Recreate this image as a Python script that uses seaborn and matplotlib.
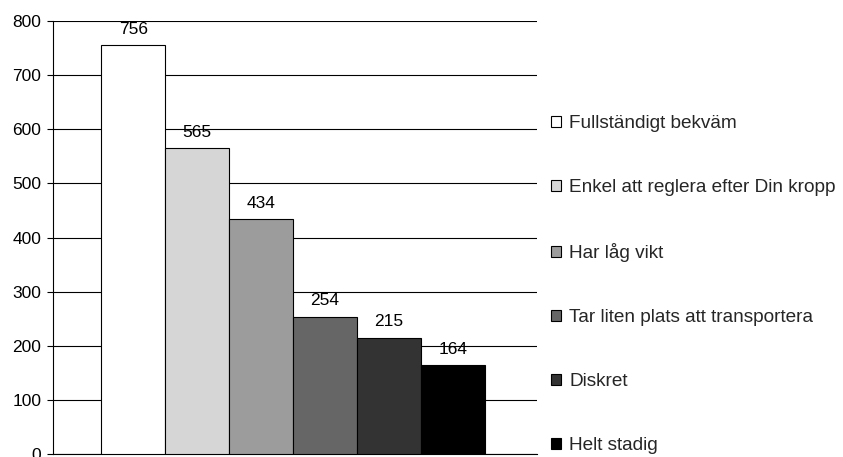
import matplotlib
matplotlib.use("Agg")
import matplotlib.pyplot as plt
import seaborn as sns
import pandas as pd

# Survey answers and number of respondents
answers = [
    "Fullständigt bekväm",
    "Enkel att reglera efter Din kropp",
    "Har låg vikt",
    "Tar liten plats att transportera",
    "Diskret",
    "Helt stadig",
]
counts = [756, 565, 434, 254, 215, 164]
fills = ["#ffffff", "#d6d6d6", "#9c9c9c", "#666666", "#333333", "#000000"]
y_ticks = [0, 100, 200, 300, 400, 500, 600, 700, 800]

df = pd.DataFrame({"group": [""] * len(answers), "answer": answers, "count": counts})

sns.set_theme(style="white")
plt.rcParams["font.family"] = ["Liberation Sans", "DejaVu Sans"]

fig = plt.figure(figsize=(8.43, 4.57), dpi=100)
ax = fig.add_axes([0.0629, 0.0066, 0.5742, 0.9474])

sns.barplot(
    data=df, x="group", y="count", hue="answer", hue_order=answers,
    palette=fills, width=0.793, edgecolor="black", linewidth=0.8,
    saturation=1, ax=ax, legend=True, zorder=3,
)

for cont in ax.containers:
    ax.bar_label(cont, padding=6, fontsize=12.5, color="black")

ax.set_ylim(0, 800)
ax.set_xlim(-0.4959, 0.5041)
ax.set_yticks(y_ticks)
ax.set_yticklabels([str(t) for t in y_ticks], fontsize=12.5, color="black")
ax.set_xticks([])
ax.set_xlabel("")
ax.set_ylabel("")
ax.yaxis.grid(True, color="black", linewidth=0.8)
ax.set_axisbelow(True)
ax.tick_params(axis="y", which="major", left=True, length=4.5, width=0.8,
               color="black", pad=4)
for side in ["top", "right"]:
    ax.spines[side].set_visible(False)
for side in ["left", "bottom"]:
    ax.spines[side].set_color("black")
    ax.spines[side].set_linewidth(0.8)

handles, labels = ax.get_legend_handles_labels()
ax.get_legend().remove()
fig.legend(
    handles, labels, loc="center left", bbox_to_anchor=(0.654, 0.377),
    frameon=False, fontsize=13.7, handlelength=0.5, handleheight=0.5,
    handletextpad=0.45, labelspacing=2.47, borderaxespad=0, borderpad=0,
)

fig.savefig("out.png", dpi=100)
